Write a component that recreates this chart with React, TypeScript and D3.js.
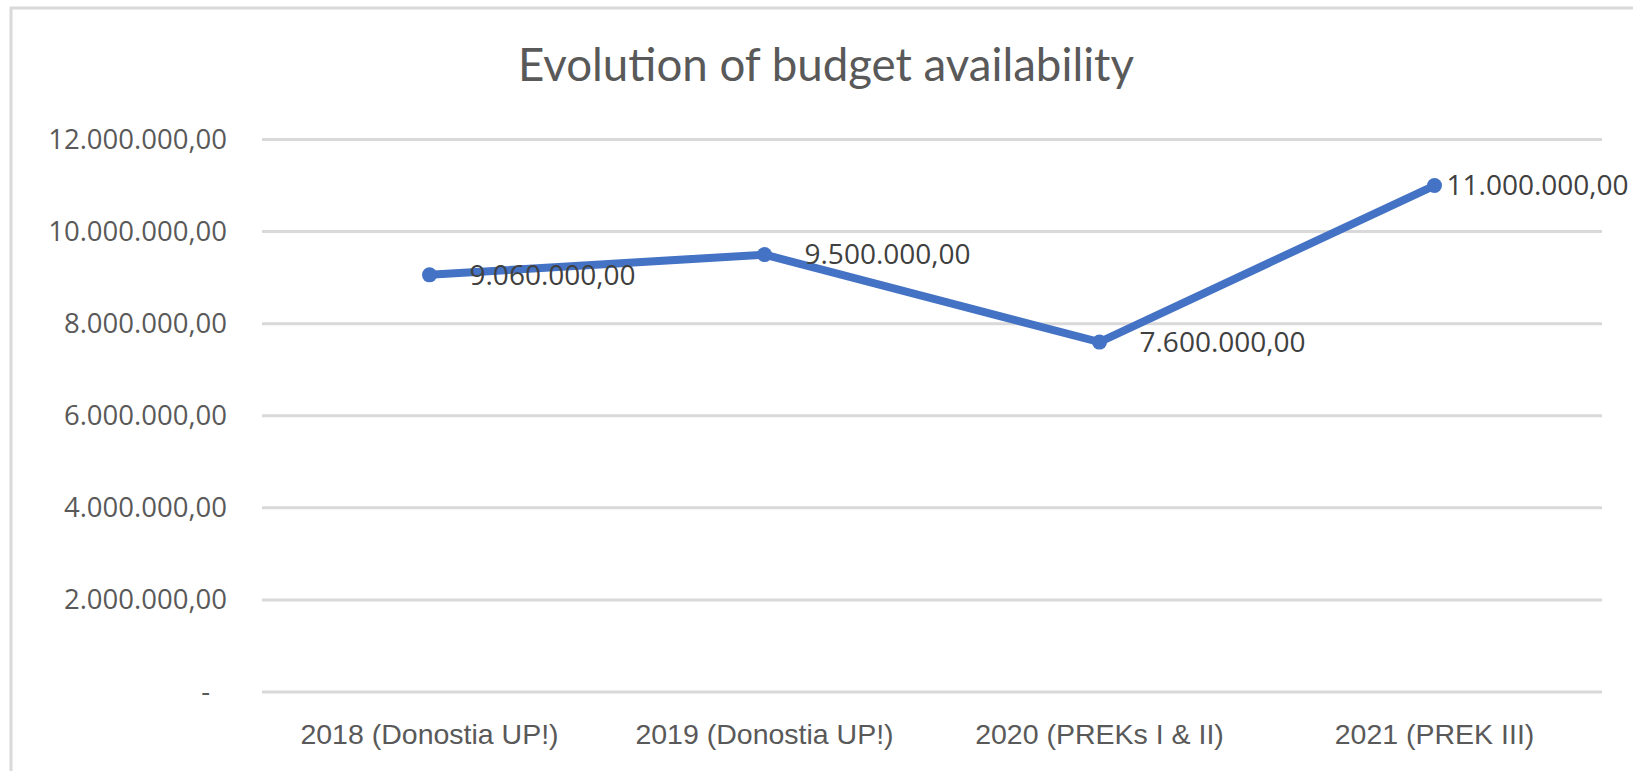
// App.tsx
// line chart of the budget availability per year, drawn with d3 into an svg
import * as d3 from 'd3';
import React, { useRef, useEffect } from 'react';

const categories = ["2018 (Donostia UP!)", "2019 (Donostia UP!)", "2020 (PREKs I & II)", "2021 (PREK III)"];
const budget = [9060000, 9500000, 7600000, 11000000];
const yTicks = [0, 2000000, 4000000, 6000000, 8000000, 10000000, 12000000];
const title = "Evolution of budget availability";

const W = 1633;
const H = 771;

function LineChart() {
    const ref = useRef<SVGSVGElement>(null);

    useEffect(() => {
        document.body.style.margin = "0";
        const svg = d3.select(ref.current);
        svg.selectAll("*").remove();

        const locale = d3.formatLocale({ decimal: ",", thousands: ".", grouping: [3], currency: ["", ""] });
        const fmt = locale.format(",.2f");

        var xScale = d3.scaleBand().domain(categories).range([262, 1602]);
        var yScale = d3.scaleLinear().domain([0, 12000000]).range([692, 139.5]);
        const cx = (c: string) => (xScale(c) as number) + xScale.bandwidth() / 2;

        // chart frame
        svg.append("rect")
            .attr("x", 11).attr("y", 8)
            .attr("width", W + 20).attr("height", H + 20)
            .attr("fill", "#fff")
            .attr("stroke", "#d9d9d9")
            .attr("stroke-width", 3);

        // title
        svg.append("text")
            .attr("x", (518 + 1134) / 2)
            .attr("y", 81)
            .attr("text-anchor", "middle")
            .attr("font-family", "Lato, 'Open Sans', sans-serif")
            .attr("font-size", 46)
            .attr("font-weight", 400)
            .attr("fill", "#595959")
            .attr("textLength", 616)
            .attr("lengthAdjust", "spacingAndGlyphs")
            .text(title);

        // gridlines
        svg.append("g").selectAll("line").data(yTicks).enter()
            .append("line")
            .attr("x1", 262).attr("x2", 1602)
            .attr("y1", d => yScale(d)).attr("y2", d => yScale(d))
            .attr("stroke", "#d9d9d9")
            .attr("stroke-width", 3);

        // y axis labels
        const yAxis = svg.append("g")
            .attr("transform", "translate(" + 235 + "," + 0 + ")")
            .call(d3.axisLeft(yScale).tickValues(yTicks).tickSize(0).tickPadding(8)
                .tickFormat(d => (+d === 0 ? "-" : fmt(+d))));
        yAxis.select(".domain").remove();
        yAxis.selectAll("text")
            .attr("font-family", "'Open Sans', Arial, sans-serif")
            .attr("font-size", 27.5)
            .attr("fill", "#595959")
            .attr("dx", (d: any) => (+d === 0 ? -17 : 0));

        // x axis labels
        const xAxis = svg.append("g")
            .attr("transform", "translate(" + 0 + "," + 692 + ")")
            .call(d3.axisBottom(xScale).tickSize(0).tickPadding(32));
        xAxis.select(".domain").remove();
        xAxis.selectAll("text")
            .attr("font-family", "'Liberation Sans', Arial, sans-serif")
            .attr("font-size", 28.5)
            .attr("fill", "#595959");

        // the line
        const line = d3.line<number>()
            .x((d, i) => cx(categories[i]))
            .y(d => yScale(d));
        svg.append("path")
            .datum(budget)
            .attr("d", line)
            .attr("fill", "none")
            .attr("stroke", "#4472c4")
            .attr("stroke-width", 8)
            .attr("stroke-linejoin", "miter")
            .attr("stroke-linecap", "round");

        svg.append("g").selectAll("circle").data(budget).enter()
            .append("circle")
            .attr("cx", (d, i) => cx(categories[i]))
            .attr("cy", d => yScale(d))
            .attr("r", 7.5)
            .attr("fill", "#4472c4");

        // data labels, the last one pulled in so it stays in the frame
        svg.append("g").selectAll("text").data(budget).enter()
            .append("text")
            .attr("x", (d, i) => cx(categories[i]) + (i === budget.length - 1 ? 12 : 40))
            .attr("y", d => yScale(d))
            .attr("dy", "0.35em")
            .attr("font-family", "'Open Sans', Arial, sans-serif")
            .attr("font-size", 28)
            .attr("fill", "#404040")
            .text(d => fmt(d));
    }, []);

    return (
        <svg ref={ref} width={W} height={H} style={{ display: "block" }}></svg>
    );
}

export default function App() {
    return <LineChart />;
}
